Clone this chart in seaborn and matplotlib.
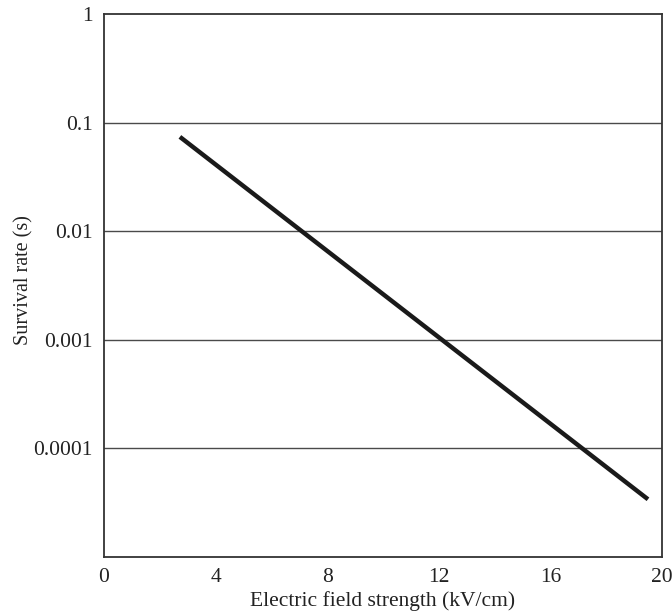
import matplotlib
matplotlib.use("Agg")
import matplotlib.pyplot as plt
import seaborn as sns
import pandas as pd

# Survival rate vs. electric field strength (log-linear decay)
field_kv_cm = [2.72, 19.5]
survival = [0.0741, 3.4e-5]
x_ticks = [0, 4, 8, 12, 16, 20]
y_ticks = [1, 0.1, 0.01, 0.001, 0.0001]
y_tick_labels = ["1", "0.1", "0.01", "0.001", "0.0001"]

sns.set_theme(style="white")
plt.rcParams["font.family"] = ["Liberation Serif", "DejaVu Serif"]

df = pd.DataFrame({"field": field_kv_cm, "survival": survival})

fig = plt.figure(figsize=(6.72, 6.16), dpi=100)
ax = fig.add_axes([0.1548, 0.0958, 0.8302, 0.8812])

sns.lineplot(data=df, x="field", y="survival", ax=ax, color="#1a1a1a",
             linewidth=3.2, solid_capstyle="butt", zorder=3)

ax.set_yscale("log")
ax.set_xlim(0, 20)
ax.set_ylim(1e-5, 1)

ax.set_xticks(x_ticks)
ax.set_xticklabels([str(t) for t in x_ticks])
ax.set_yticks(y_ticks)
ax.set_yticklabels(y_tick_labels)
ax.yaxis.set_minor_locator(matplotlib.ticker.NullLocator())

for yv in y_ticks[1:]:
    ax.axhline(yv, color="#4a4a4a", linewidth=1.0, zorder=1)

ax.tick_params(axis="x", direction="in", length=14, width=1.2,
               color="#333333", pad=8, labelsize=15.5, labelcolor="#222222")
ax.tick_params(axis="y", length=0, pad=8, labelsize=15.5, labelcolor="#222222")

for s in ax.spines.values():
    s.set_color("#333333")
    s.set_linewidth(1.3)

ax.set_xlabel("Electric field strength (kV/cm)", fontsize=15.5, color="#222222",
              labelpad=3)
ax.set_ylabel("Survival rate (s)", fontsize=14.5, color="#222222")
ax.yaxis.set_label_coords(-0.127, 0.51)

fig.savefig("out.png", dpi=100, facecolor="white")
